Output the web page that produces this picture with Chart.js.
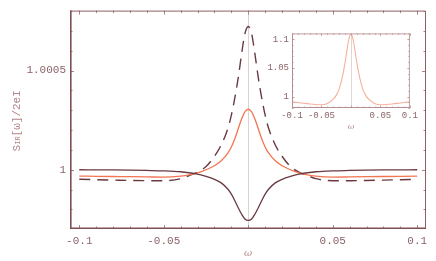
<!DOCTYPE html>
<html>
<head>
<meta charset="utf-8">
<script src="https://cdn.jsdelivr.net/npm/chart.js@4.4.0/dist/chart.umd.min.js"></script>
<style>
  html, body { margin: 0; padding: 0; background: #fff; }
  #wrap { position: relative; width: 436px; height: 261px; }
  #main { position: absolute; left: 0; top: 0; width: 436px; height: 261px; }
  #inset { position: absolute; left: 250px; top: 25px; width: 170px; height: 108px; }
</style>
</head>
<body>
<div id="wrap">
  <canvas id="main" width="436" height="261"></canvas>
  <canvas id="inset" width="170" height="108"></canvas>
</div>
<script>
// main plot: frequency grid and the three noise curves
var omega = [-0.1, -0.09, -0.08, -0.07, -0.06, -0.05, -0.04, -0.035, -0.03, -0.025, -0.02, -0.016, -0.012, -0.01, -0.008, -0.006, -0.004, -0.002,
             0, 0.002, 0.004, 0.006, 0.008, 0.01, 0.012, 0.016, 0.02, 0.025, 0.03, 0.035, 0.04, 0.05, 0.06, 0.07, 0.08, 0.09, 0.1];

var dipCurve = [1.0, 0.9999995, 0.999999, 0.999998, 0.9999965, 0.9999945, 0.99999, 0.999985, 0.999978, 0.999967, 0.999952, 0.999934, 0.999902, 0.999877, 0.999845, 0.99981, 0.999777, 0.999752,
                0.999745, 0.999752, 0.999777, 0.99981, 0.999845, 0.999877, 0.999902, 0.999934, 0.999952, 0.999967, 0.999978, 0.999985, 0.99999, 0.9999945, 0.9999965, 0.999998, 0.999999, 0.9999995, 1.0];

var peakCurve = [0.999968, 0.999967, 0.999966, 0.999965, 0.999964, 0.999963, 0.999968, 0.999974, 0.999984, 1.0, 1.00002, 1.000045, 1.000085, 1.000115, 1.000155, 1.000205, 1.000255, 1.000292,
                 1.000305, 1.000292, 1.000255, 1.000205, 1.000155, 1.000115, 1.000085, 1.000045, 1.00002, 1.0, 0.999984, 0.999974, 0.999968, 0.999963, 0.999964, 0.999965, 0.999966, 0.999967, 0.999968];

var dashCurve = [0.999952, 0.99995, 0.999948, 0.999946, 0.999945, 0.999945, 0.999955, 0.999971, 0.999988, 1.000016, 1.000068, 1.000125, 1.00021, 1.000275, 1.00036, 1.00046, 1.00058, 1.000685,
                 1.000722, 1.000685, 1.00058, 1.00046, 1.00036, 1.000275, 1.00021, 1.000125, 1.000068, 1.000016, 0.999988, 0.999971, 0.999955, 0.999945, 0.999945, 0.999946, 0.999948, 0.99995, 0.999952];

// inset
var omegaInset = [-0.1, -0.09, -0.08, -0.07, -0.06, -0.05, -0.04, -0.03, -0.025, -0.02, -0.015, -0.01, -0.005, -0.0025,
                  0, 0.0025, 0.005, 0.01, 0.015, 0.02, 0.025, 0.03, 0.04, 0.05, 0.06, 0.07, 0.08, 0.09, 0.1];
var insetCurve = [0.9905, 0.9895, 0.9882, 0.987, 0.9861, 0.9857, 0.988, 0.9955, 1.002, 1.013, 1.032, 1.059, 1.092, 1.104,
                  1.11, 1.104, 1.092, 1.059, 1.032, 1.013, 1.002, 0.9955, 0.988, 0.9857, 0.9861, 0.987, 0.9882, 0.9895, 0.9905];

// tick labels
var xTicks = [-0.1, -0.05, 0.05, 0.1];
var xTickLabels = ['-0.1', '-0.05', '0.05', '0.1'];
var yTicks = [1, 1.0005];
var yTickLabels = ['1', '1.0005'];
var insetYTicks = [1, 1.05, 1.1];
var insetYTickLabels = ['1', '1.05', '1.1'];

// minor tick marks on the frame
var xMinor = [-0.1, -0.09, -0.08, -0.07, -0.06, -0.05, -0.04, -0.03, -0.02, -0.01, 0, 0.01, 0.02, 0.03, 0.04, 0.05, 0.06, 0.07, 0.08, 0.09, 0.1];
var yMinor = [0.9998, 0.9999, 1, 1.0001, 1.0002, 1.0003, 1.0004, 1.0005, 1.0006, 1.0007, 1.0008];
var insetYMinor = [0.98, 0.99, 1, 1.01, 1.02, 1.03, 1.04, 1.05, 1.06, 1.07, 1.08, 1.09, 1.1, 1.11];

var mono = '"Liberation Mono", "DejaVu Sans Mono", monospace';
var tickColor = '#8c6468';

function pts(xs, ys) {
  return xs.map(function (x, i) { return { x: x, y: ys[i] }; });
}

function setTicks(vals) {
  return function (scale) { scale.ticks = vals.map(function (v) { return { value: v }; }); };
}

// frame, inner tick marks and the w=0 axis line
function frameDeco(o) {
  return {
    id: 'frameDeco',
    beforeDatasetsDraw: function (chart) {
      var ctx = chart.ctx, a = chart.chartArea, x = chart.scales.x;
      var px = Math.round(x.getPixelForValue(0)) + 0.5;
      ctx.save();
      ctx.strokeStyle = o.zero;
      ctx.lineWidth = 1;
      ctx.beginPath(); ctx.moveTo(px, a.top); ctx.lineTo(px, a.bottom); ctx.stroke();
      ctx.restore();
    },
    afterDatasetsDraw: function (chart) {
      var ctx = chart.ctx, a = chart.chartArea, x = chart.scales.x, y = chart.scales.y;
      ctx.save();
      ctx.strokeStyle = o.tick;
      ctx.lineWidth = 1;
      ctx.beginPath();
      o.xMinor.forEach(function (v) {
        var p = Math.round(x.getPixelForValue(v)) + 0.5;
        var len = o.xMajor.indexOf(v) >= 0 ? o.major : o.minor;
        ctx.moveTo(p, a.bottom); ctx.lineTo(p, a.bottom - len);
        ctx.moveTo(p, a.top); ctx.lineTo(p, a.top + len);
      });
      o.yMinor.forEach(function (v) {
        var p = Math.round(y.getPixelForValue(v)) + 0.5;
        var len = o.yMajor.indexOf(v) >= 0 ? o.major : o.minor;
        ctx.moveTo(a.left, p); ctx.lineTo(a.left + len, p);
        ctx.moveTo(a.right, p); ctx.lineTo(a.right - len, p);
      });
      ctx.stroke();
      // top / right
      ctx.strokeStyle = o.frameLight;
      ctx.lineWidth = 1;
      ctx.beginPath();
      ctx.moveTo(a.left, a.top + 0.5); ctx.lineTo(a.right - 0.5, a.top + 0.5); ctx.lineTo(a.right - 0.5, a.bottom);
      ctx.stroke();
      // left / bottom
      ctx.strokeStyle = o.frame;
      ctx.lineWidth = o.width;
      ctx.beginPath();
      ctx.moveTo(a.left + o.width / 2, a.top); ctx.lineTo(a.left + o.width / 2, a.bottom - o.width / 2); ctx.lineTo(a.right, a.bottom - o.width / 2);
      ctx.stroke();
      ctx.restore();
    }
  };
}

// y title with subscript
var yTitle = {
  id: 'yTitle',
  afterDraw: function (chart) {
    var ctx = chart.ctx, a = chart.chartArea;
    var parts = [['S', '11px ' + mono, 0], ['IR', '7px ' + mono, 1.5], ['[\u03c9]/2eI', '11px ' + mono, 0]];
    ctx.save();
    ctx.translate(17, (a.top + a.bottom) / 2 + 1);
    ctx.rotate(-Math.PI / 2);
    ctx.fillStyle = '#b38589';
    ctx.textBaseline = 'middle';
    var total = 0;
    parts.forEach(function (p) { ctx.font = p[1]; total += ctx.measureText(p[0]).width; });
    var cx = -total / 2;
    parts.forEach(function (p) {
      ctx.font = p[1];
      ctx.fillText(p[0], cx, p[2]);
      cx += ctx.measureText(p[0]).width;
    });
    ctx.restore();
  }
};

new Chart(document.getElementById('main').getContext('2d'), {
  type: 'line',
  data: {
    datasets: [
      { data: pts(omega, dipCurve), borderColor: '#6a3a42', borderWidth: 1.3 },
      { data: pts(omega, peakCurve), borderColor: '#f27552', borderWidth: 1.3 },
      { data: pts(omega, dashCurve), borderColor: '#6a3a42', borderWidth: 1.4, borderDash: [11, 7] }
    ]
  },
  options: {
    responsive: false,
    animation: false,
    layout: { padding: { top: 9, right: 10, left: 0, bottom: 0 } },
    elements: { point: { radius: 0 }, line: { cubicInterpolationMode: 'monotone', fill: false } },
    plugins: { legend: { display: false }, tooltip: { enabled: false } },
    scales: {
      x: {
        type: 'linear', min: -0.1055, max: 0.1052,
        afterBuildTicks: setTicks(xTicks),
        afterFit: function (s) { s.height = 32; },
        grid: { display: false, drawTicks: false },
        border: { display: false },
        ticks: {
          padding: 5, color: tickColor, font: { family: mono, size: 11 }, maxRotation: 0, autoSkip: false,
          callback: function (v, i) { return xTickLabels[i]; }
        },
        title: { display: true, text: '\u03c9', color: '#b38589', padding: { top: 0, bottom: 2 },
                 font: { family: '"DejaVu Serif", serif', style: 'italic', size: 10 } }
      },
      y: {
        type: 'linear', min: 0.9997015, max: 1.000802,
        afterBuildTicks: setTicks(yTicks),
        afterFit: function (s) { s.width = 70; },
        grid: { display: false, drawTicks: false },
        border: { display: false },
        ticks: {
          padding: 4, color: tickColor, font: { family: mono, size: 11 }, autoSkip: false,
          callback: function (v, i) { return yTickLabels[i]; }
        }
      }
    }
  },
  plugins: [frameDeco({ zero: '#ddd2d3', tick: '#a88486', frame: '#7f4f55', frameLight: '#8f5f64', width: 1.6,
                        major: 4, minor: 2.5, xMinor: xMinor, xMajor: [-0.1, -0.05, 0, 0.05, 0.1],
                        yMinor: yMinor, yMajor: yTicks }), yTitle]
});

new Chart(document.getElementById('inset').getContext('2d'), {
  type: 'line',
  data: {
    datasets: [
      { data: pts(omegaInset, insetCurve), borderColor: '#f6b09d', borderWidth: 1.1 }
    ]
  },
  options: {
    responsive: false,
    animation: false,
    layout: { padding: { top: 8, right: 6, left: 0, bottom: 0 } },
    elements: { point: { radius: 0 }, line: { cubicInterpolationMode: 'monotone', fill: false } },
    plugins: { legend: { display: false }, tooltip: { enabled: false } },
    scales: {
      x: {
        type: 'linear', min: -0.1, max: 0.1,
        afterBuildTicks: setTicks(xTicks),
        afterFit: function (s) { s.height = 25; },
        grid: { display: false, drawTicks: false },
        border: { display: false },
        ticks: {
          padding: 2, color: tickColor, font: { family: mono, size: 9 }, maxRotation: 0, autoSkip: false,
          callback: function (v, i) { return xTickLabels[i]; }
        },
        title: { display: true, text: '\u03c9', color: '#b38589', padding: { top: 0, bottom: 1 },
                 font: { family: '"DejaVu Serif", serif', style: 'italic', size: 8 } }
      },
      y: {
        type: 'linear', min: 0.98, max: 1.11,
        afterBuildTicks: setTicks(insetYTicks),
        afterFit: function (s) { s.width = 42; },
        grid: { display: false, drawTicks: false },
        border: { display: false },
        ticks: {
          padding: 3, color: tickColor, font: { family: mono, size: 9 }, autoSkip: false,
          callback: function (v, i) { return insetYTickLabels[i]; }
        }
      }
    }
  },
  plugins: [frameDeco({ zero: '#e3d6d6', tick: '#c4a2a2', frame: '#b48e90', frameLight: '#c09c9e', width: 1,
                        major: 2.5, minor: 1.5, xMinor: xMinor, xMajor: [-0.1, -0.05, 0, 0.05, 0.1],
                        yMinor: insetYMinor, yMajor: insetYTicks })]
});
</script>
</body>
</html>
